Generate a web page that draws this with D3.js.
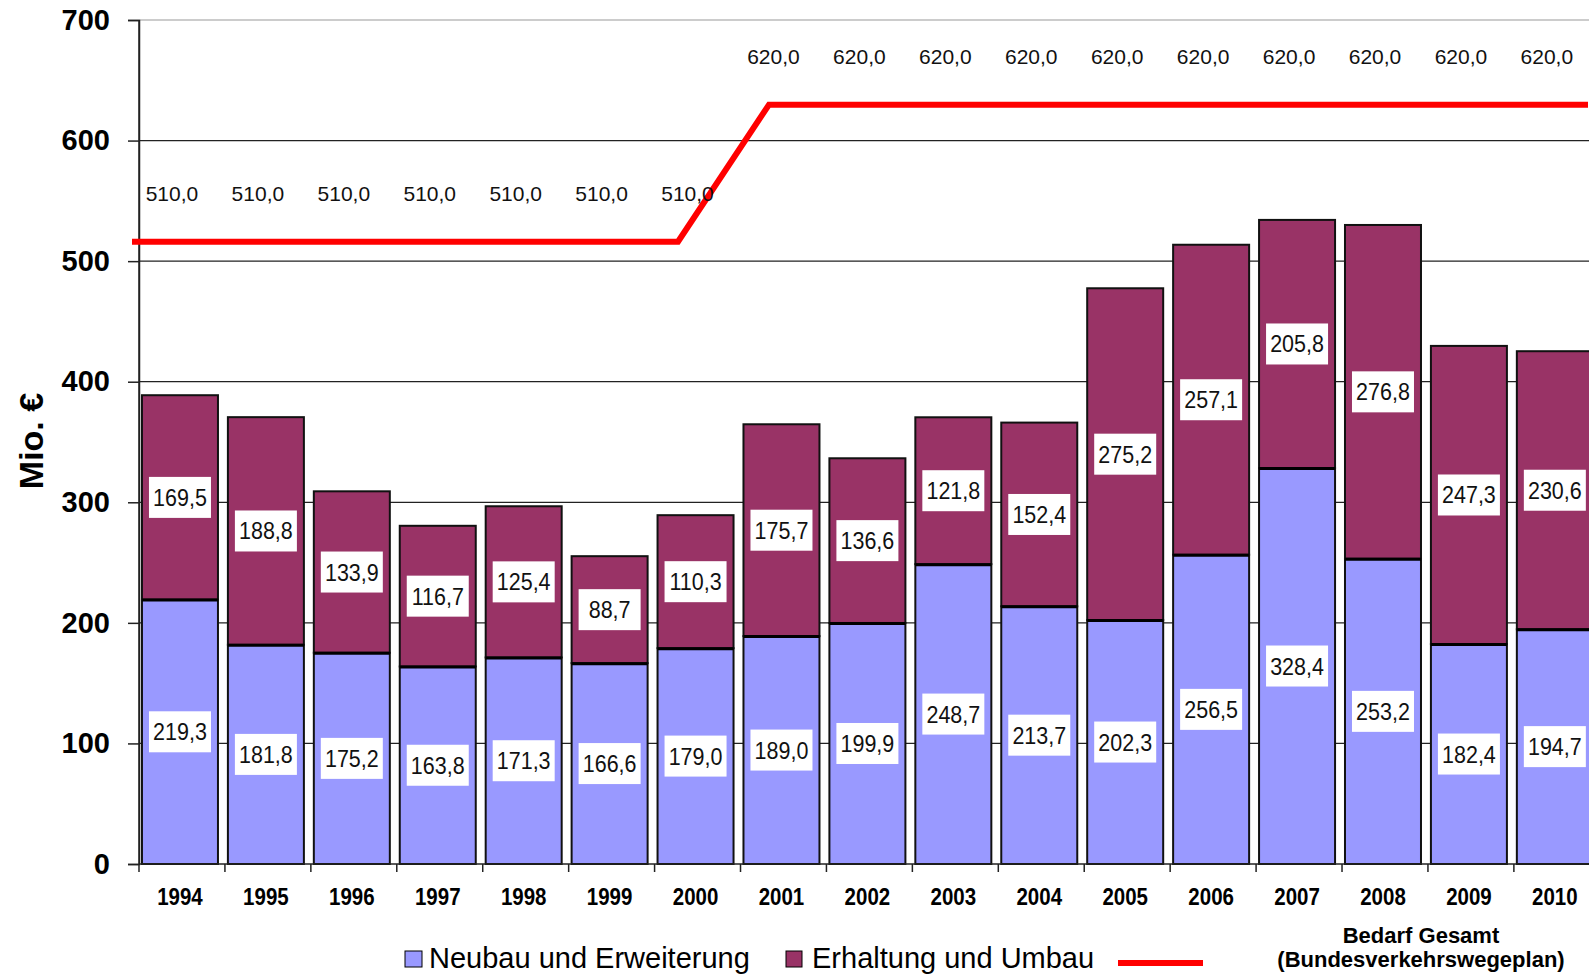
<!DOCTYPE html>
<html>
<head>
<meta charset="utf-8">
<script src="https://cdn.jsdelivr.net/npm/d3@7"></script>
<style>
  body { margin: 0; background: #fff; }
  svg { display: block; font-family: "Liberation Sans", Arial, sans-serif; }
</style>
</head>
<body>
<svg id="chart" width="1589" height="976"></svg>
<script>
// chart data
const years = ['1994', '1995', '1996', '1997', '1998', '1999', '2000', '2001', '2002',
  '2003', '2004', '2005', '2006', '2007', '2008', '2009', '2010'];
const neubau = [219.3, 181.8, 175.2, 163.8, 171.3, 166.6, 179.0, 189.0, 199.9,
  248.7, 213.7, 202.3, 256.5, 328.4, 253.2, 182.4, 194.7];
const erhaltung = [169.5, 188.8, 133.9, 116.7, 125.4, 88.7, 110.3, 175.7, 136.6,
  121.8, 152.4, 275.2, 257.1, 205.8, 276.8, 247.3, 230.6];
const bedarf = [510, 510, 510, 510, 510, 510, 510, 620, 620,
  620, 620, 620, 620, 620, 620, 620, 620];
const yTicks = [0, 100, 200, 300, 400, 500, 600, 700];

const colNeu = '#9999ff';
const colErh = '#993366';
const colRed = '#ff0000';

const svg = d3.select('#chart');
const fmt = v => d3.format('.1f')(v).replace('.', ',');

const plotLeft = 139, plotTop = 20, plotBottom = 864, plotRight = 1589;

const x = d3.scaleBand()
  .domain(years)
  .range([137, 137 + 17 * 85.93])
  .paddingInner(0.1156)
  .paddingOuter(0.0578);

const y = d3.scaleLinear().domain([0, 700]).range([plotBottom, plotTop]);

// hidden secondary axes used by the Bedarf line
const xLine = d3.scalePoint().domain(years).range([132, 1588]);
const yLine = d3.scaleLinear().domain([0, 700]).range([877, 5]);

// gridlines
svg.append('g')
  .selectAll('line')
  .data(yTicks.filter(d => d > 0))
  .join('line')
  .attr('x1', plotLeft).attr('x2', plotRight)
  .attr('y1', d => y(d)).attr('y2', d => y(d))
  .attr('stroke', d => d === 700 ? '#999' : '#222')
  .attr('stroke-width', 1.2);

// y axis
const yAxis = svg.append('g')
  .attr('transform', `translate(${plotLeft},0)`)
  .call(d3.axisLeft(y).tickValues(yTicks).tickSize(11).tickPadding(18).tickFormat(d3.format('d')));
yAxis.select('.domain').attr('stroke', '#222').attr('stroke-width', 1.5);
yAxis.selectAll('.tick line').attr('stroke', '#222').attr('stroke-width', 1.5);
yAxis.selectAll('.tick text')
  .attr('font-size', 29).attr('font-weight', 'bold').attr('fill', '#000')
  .attr('font-family', '"Liberation Sans", Arial, sans-serif');

// bars
const bars = svg.append('g');
years.forEach((yr, i) => {
  const x0 = x(yr), w = x.bandwidth();
  const top1 = y(neubau[i]);
  const top2 = y(neubau[i] + erhaltung[i]);
  bars.append('rect')
    .attr('x', x0).attr('y', top1).attr('width', w).attr('height', y(0) - top1)
    .attr('fill', colNeu).attr('stroke', '#111').attr('stroke-width', 2);
  bars.append('rect')
    .attr('x', x0).attr('y', top2).attr('width', w).attr('height', top1 - top2)
    .attr('fill', colErh).attr('stroke', '#111').attr('stroke-width', 2);
  bars.append('line')
    .attr('x1', x0).attr('x2', x0 + w).attr('y1', top1 + 0.5).attr('y2', top1 + 0.5)
    .attr('stroke', '#000').attr('stroke-width', 3);
});

// x axis line and boundary ticks
svg.append('line')
  .attr('x1', plotLeft).attr('x2', plotRight)
  .attr('y1', plotBottom).attr('y2', plotBottom)
  .attr('stroke', '#222').attr('stroke-width', 1.5);
svg.append('line')
  .attr('x1', plotLeft).attr('x2', plotLeft)
  .attr('y1', plotTop).attr('y2', plotBottom)
  .attr('stroke', '#222').attr('stroke-width', 1.5);
const bounds = years.map(d => x(d) - x.step() * x.paddingInner() / 2 + 2);
svg.append('g')
  .selectAll('line')
  .data(bounds)
  .join('line')
  .attr('x1', d => d).attr('x2', d => d)
  .attr('y1', plotBottom).attr('y2', plotBottom + 8)
  .attr('stroke', '#222').attr('stroke-width', 1.5);

// year labels
svg.append('g')
  .selectAll('text')
  .data(years)
  .join('text')
  .attr('transform', d => `translate(${x(d) + x.bandwidth() / 2},905) scale(1,1.18)`)
  .attr('text-anchor', 'middle')
  .attr('font-size', 20.5).attr('font-weight', 'bold')
  .text(d => d);

// data labels in white boxes
function boxLabel(cx, cy, v) {
  const g = svg.append('g').attr('transform', `translate(${cx},${cy})`);
  g.append('rect')
    .attr('x', -31).attr('y', -20.5).attr('width', 62).attr('height', 41)
    .attr('fill', '#fff');
  g.append('text')
    .attr('transform', 'translate(0,8.5) scale(1,1.12)')
    .attr('text-anchor', 'middle')
    .attr('font-size', 21.5).attr('fill', '#111')
    .text(fmt(v));
}
years.forEach((yr, i) => {
  const cx = x(yr) + x.bandwidth() / 2;
  boxLabel(cx, y(neubau[i] / 2), neubau[i]);
  boxLabel(cx, y(neubau[i] + erhaltung[i] / 2), erhaltung[i]);
});

// Bedarf line
svg.append('path')
  .datum(bedarf)
  .attr('fill', 'none')
  .attr('stroke', colRed)
  .attr('stroke-width', 6)
  .attr('d', d3.line().x((d, i) => xLine(years[i])).y(d => yLine(d)));

svg.append('g')
  .selectAll('text')
  .data(bedarf)
  .join('text')
  .attr('x', (d, i) => x(years[i]) + x.bandwidth() / 2 - 8)
  .attr('y', d => yLine(d) - 41)
  .attr('text-anchor', 'middle')
  .attr('font-size', 21).attr('fill', '#111')
  .text(d => fmt(d));

// y axis title
svg.append('text')
  .attr('transform', 'translate(43,441) rotate(-90)')
  .attr('text-anchor', 'middle')
  .attr('font-size', 34).attr('font-weight', 'bold')
  .text('Mio. €');

// legend
const legend = svg.append('g');
legend.append('rect').attr('x', 405).attr('y', 951).attr('width', 17).attr('height', 16)
  .attr('fill', colNeu).attr('stroke', '#000').attr('stroke-width', 1);
legend.append('text').attr('x', 429).attr('y', 968).attr('font-size', 29)
  .text('Neubau und Erweiterung');
legend.append('rect').attr('x', 786).attr('y', 951).attr('width', 16).attr('height', 16)
  .attr('fill', colErh).attr('stroke', '#000').attr('stroke-width', 1);
legend.append('text').attr('x', 812).attr('y', 968).attr('font-size', 29)
  .text('Erhaltung und Umbau');
legend.append('line').attr('x1', 1118).attr('x2', 1203).attr('y1', 963).attr('y2', 963)
  .attr('stroke', colRed).attr('stroke-width', 6);
legend.append('text').attr('x', 1421).attr('y', 943).attr('text-anchor', 'middle')
  .attr('font-size', 22).attr('font-weight', 'bold').text('Bedarf Gesamt');
legend.append('text').attr('x', 1421).attr('y', 967).attr('text-anchor', 'middle')
  .attr('font-size', 22).attr('font-weight', 'bold').text('(Bundesverkehrswegeplan)');
</script>
</body>
</html>
